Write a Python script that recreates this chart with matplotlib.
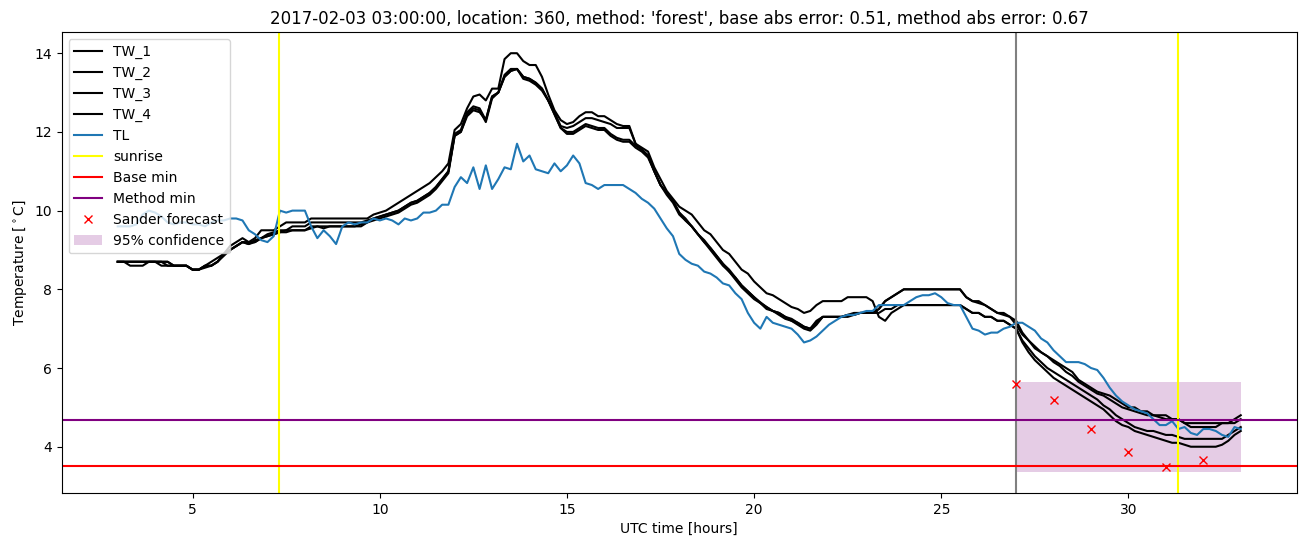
import numpy as np
import matplotlib
matplotlib.use("Agg")
import matplotlib.pyplot as plt

# time axis: 10-minute samples from 03:00 to 33:00 UTC
hours = 3 + np.arange(181) / 6.0

tw_1 = [
    8.7, 8.7, 8.7, 8.7, 8.7, 8.7,
    8.7, 8.7, 8.6, 8.6, 8.6, 8.6,
    8.5, 8.5, 8.6, 8.7, 8.8, 8.9,
    9.1, 9.2, 9.3, 9.2, 9.3, 9.5,
    9.5, 9.5, 9.6, 9.7, 9.7, 9.7,
    9.7, 9.8, 9.8, 9.8, 9.8, 9.8,
    9.8, 9.8, 9.8, 9.8, 9.8, 9.9,
    9.95, 10.0, 10.1, 10.2, 10.3, 10.4,
    10.5, 10.6, 10.7, 10.85, 11.0, 11.2,
    12.05, 12.2, 12.6, 12.9, 12.95, 12.8,
    13.1, 13.1, 13.85, 14.0, 14.0, 13.8,
    13.7, 13.7, 13.4, 12.95, 12.55, 12.3,
    12.2, 12.25, 12.4, 12.5, 12.5, 12.4,
    12.4, 12.3, 12.2, 12.15, 12.15, 11.7,
    11.6, 11.5, 11.1, 10.8, 10.5, 10.3,
    10.1, 10.0, 9.9, 9.7, 9.5, 9.4,
    9.2, 9.0, 8.9, 8.7, 8.5, 8.4,
    8.2, 8.05, 7.9, 7.85, 7.75, 7.65,
    7.55, 7.5, 7.4, 7.45, 7.6, 7.7,
    7.7, 7.7, 7.7, 7.8, 7.8, 7.8,
    7.8, 7.7, 7.3, 7.2, 7.4, 7.5,
    7.6, 7.6, 7.6, 7.6, 7.6, 7.6,
    7.6, 7.6, 7.6, 7.6, 7.5, 7.4,
    7.4, 7.3, 7.3, 7.2, 7.2, 7.1,
    7.0, 6.7, 6.5, 6.3, 6.15, 6.0,
    5.9, 5.8, 5.7, 5.6, 5.5, 5.4,
    5.3, 5.2, 5.05, 4.95, 4.8, 4.7,
    4.6, 4.5, 4.45, 4.4, 4.4, 4.35,
    4.3, 4.3, 4.25, 4.2, 4.2, 4.2,
    4.2, 4.2, 4.2, 4.2, 4.3, 4.4,
    4.5,
]

tw_2 = [
    8.7, 8.7, 8.6, 8.6, 8.6, 8.7,
    8.7, 8.7, 8.7, 8.6, 8.6, 8.6,
    8.5, 8.5, 8.6, 8.6, 8.7, 8.9,
    9.0, 9.1, 9.2, 9.15, 9.2, 9.3,
    9.4, 9.45, 9.5, 9.5, 9.6, 9.6,
    9.6, 9.7, 9.7, 9.7, 9.7, 9.7,
    9.7, 9.7, 9.7, 9.7, 9.75, 9.8,
    9.85, 9.9, 9.95, 10.0, 10.1, 10.2,
    10.25, 10.35, 10.45, 10.6, 10.8, 11.0,
    11.95, 12.05, 12.5, 12.65, 12.6, 12.3,
    12.9, 13.0, 13.45, 13.6, 13.6, 13.4,
    13.35, 13.25, 13.1, 12.8, 12.5, 12.15,
    12.1, 12.15, 12.25, 12.35, 12.35, 12.3,
    12.25, 12.2, 12.1, 12.1, 12.1, 11.7,
    11.55, 11.4, 11.0, 10.65, 10.45, 10.25,
    9.95, 9.8, 9.6, 9.4, 9.25, 9.05,
    8.85, 8.65, 8.5, 8.3, 8.1, 7.95,
    7.8, 7.67, 7.55, 7.45, 7.4, 7.3,
    7.25, 7.15, 7.05, 7.0, 7.2, 7.3,
    7.3, 7.3, 7.3, 7.35, 7.35, 7.4,
    7.4, 7.4, 7.5, 7.7, 7.8, 7.9,
    8.0, 8.0, 8.0, 8.0, 8.0, 8.0,
    8.0, 8.0, 8.0, 8.0, 7.8, 7.7,
    7.7, 7.6, 7.5, 7.4, 7.4, 7.3,
    7.2, 6.9, 6.7, 6.55, 6.4, 6.3,
    6.2, 6.1, 6.0, 5.9, 5.7, 5.6,
    5.5, 5.4, 5.35, 5.3, 5.2, 5.1,
    5.0, 5.0, 4.9, 4.9, 4.8, 4.8,
    4.8, 4.7, 4.7, 4.6, 4.6, 4.6,
    4.6, 4.6, 4.6, 4.6, 4.6, 4.7,
    4.8,
]

tw_3 = [
    8.7, 8.7, 8.7, 8.7, 8.7, 8.7,
    8.7, 8.7, 8.7, 8.6, 8.6, 8.6,
    8.5, 8.5, 8.6, 8.6, 8.7, 8.9,
    9.0, 9.1, 9.2, 9.2, 9.2, 9.3,
    9.35, 9.4, 9.45, 9.45, 9.5, 9.5,
    9.5, 9.55, 9.6, 9.6, 9.6, 9.6,
    9.6, 9.6, 9.6, 9.6, 9.7, 9.8,
    9.85, 9.9, 9.95, 10.0, 10.1, 10.2,
    10.25, 10.35, 10.45, 10.6, 10.8, 11.0,
    11.9, 12.0, 12.45, 12.6, 12.55, 12.25,
    12.85, 13.0, 13.4, 13.55, 13.6, 13.4,
    13.35, 13.25, 13.1, 12.8, 12.45, 12.1,
    12.0, 12.0, 12.1, 12.2, 12.15, 12.1,
    12.1, 11.95, 11.85, 11.8, 11.8, 11.65,
    11.55, 11.4, 11.0, 10.65, 10.45, 10.25,
    9.95, 9.75, 9.6, 9.4, 9.2, 9.05,
    8.85, 8.65, 8.45, 8.3, 8.1, 7.95,
    7.8, 7.65, 7.55, 7.45, 7.4, 7.3,
    7.2, 7.15, 7.05, 7.0, 7.15, 7.3,
    7.3, 7.3, 7.3, 7.35, 7.4, 7.4,
    7.4, 7.4, 7.5, 7.7, 7.8, 7.9,
    8.0, 8.0, 8.0, 8.0, 8.0, 8.0,
    8.0, 8.0, 8.0, 8.0, 7.8, 7.7,
    7.65, 7.6, 7.5, 7.4, 7.35, 7.3,
    7.1, 6.85, 6.7, 6.5, 6.4, 6.3,
    6.15, 6.05, 5.9, 5.8, 5.65, 5.55,
    5.45, 5.35, 5.3, 5.2, 5.1, 5.0,
    4.95, 4.9, 4.85, 4.8, 4.8, 4.75,
    4.7, 4.7, 4.7, 4.6, 4.5, 4.5,
    4.5, 4.5, 4.5, 4.6, 4.6, 4.6,
    4.7,
]

tw_4 = [
    8.7, 8.7, 8.7, 8.7, 8.7, 8.7,
    8.7, 8.6, 8.6, 8.6, 8.6, 8.6,
    8.5, 8.5, 8.55, 8.6, 8.7, 8.85,
    9.0, 9.1, 9.2, 9.15, 9.25, 9.3,
    9.35, 9.4, 9.45, 9.5, 9.5, 9.5,
    9.5, 9.6, 9.6, 9.55, 9.6, 9.6,
    9.6, 9.6, 9.6, 9.65, 9.7, 9.75,
    9.8, 9.85, 9.9, 9.95, 10.05, 10.15,
    10.2, 10.3, 10.4, 10.55, 10.75, 10.95,
    11.9, 12.0, 12.4, 12.55, 12.5, 12.3,
    12.9, 13.0, 13.4, 13.55, 13.6, 13.35,
    13.3, 13.2, 13.05, 12.8, 12.45, 12.1,
    11.95, 11.95, 12.05, 12.15, 12.1, 12.05,
    12.05, 11.9, 11.8, 11.75, 11.75, 11.6,
    11.5, 11.35, 11.0, 10.65, 10.4, 10.2,
    9.9, 9.75, 9.6, 9.4, 9.2, 9.0,
    8.8, 8.6, 8.45, 8.25, 8.05, 7.9,
    7.75, 7.65, 7.5, 7.45, 7.35, 7.25,
    7.2, 7.1, 7.0, 6.95, 7.1, 7.3,
    7.3, 7.3, 7.3, 7.3, 7.35, 7.4,
    7.4, 7.4, 7.4, 7.5, 7.5, 7.6,
    7.6, 7.6, 7.6, 7.6, 7.6, 7.6,
    7.6, 7.6, 7.6, 7.6, 7.5, 7.4,
    7.4, 7.3, 7.3, 7.2, 7.2, 7.1,
    7.0, 6.65, 6.4, 6.2, 6.05, 5.9,
    5.75, 5.65, 5.55, 5.45, 5.35, 5.25,
    5.15, 5.05, 4.95, 4.8, 4.65, 4.55,
    4.5, 4.4, 4.35, 4.3, 4.25, 4.2,
    4.15, 4.1, 4.1, 4.05, 4.0, 4.0,
    4.0, 4.0, 4.0, 4.05, 4.15, 4.3,
    4.4,
]

tl = [
    9.6, 9.6, 9.6, 9.65, 9.9, 10.0,
    9.95, 9.85, 9.7, 9.65, 9.7, 9.7,
    9.65, 9.65, 9.6, 9.7, 9.75, 9.75,
    9.8, 9.8, 9.75, 9.5, 9.4, 9.25,
    9.2, 9.35, 10.0, 9.95, 10.0, 10.0,
    10.0, 9.6, 9.3, 9.5, 9.35, 9.15,
    9.6, 9.7, 9.65, 9.7, 9.7, 9.8,
    9.75, 9.8, 9.75, 9.65, 9.8, 9.75,
    9.8, 9.95, 9.95, 10.0, 10.15, 10.15,
    10.6, 10.85, 10.7, 11.1, 10.55, 11.15,
    10.55, 10.8, 11.1, 11.05, 11.7, 11.25,
    11.4, 11.05, 11.0, 10.95, 11.2, 11.0,
    11.15, 11.4, 11.2, 10.7, 10.65, 10.55,
    10.65, 10.65, 10.65, 10.65, 10.55, 10.45,
    10.3, 10.2, 10.05, 9.8, 9.55, 9.35,
    8.9, 8.75, 8.65, 8.6, 8.45, 8.4,
    8.3, 8.15, 8.1, 7.9, 7.75, 7.4,
    7.15, 7.0, 7.3, 7.15, 7.1, 7.05,
    7.0, 6.85, 6.65, 6.7, 6.8, 6.95,
    7.1, 7.2, 7.3, 7.35, 7.35, 7.4,
    7.45, 7.45, 7.6, 7.6, 7.6, 7.6,
    7.6, 7.7, 7.8, 7.85, 7.85, 7.9,
    7.8, 7.65, 7.6, 7.6, 7.3, 7.0,
    6.95, 6.85, 6.9, 6.9, 7.0, 7.05,
    7.15, 7.15, 7.05, 6.95, 6.75, 6.65,
    6.45, 6.3, 6.15, 6.15, 6.15, 6.1,
    6.0, 5.95, 5.75, 5.5, 5.3, 5.15,
    5.05, 4.95, 4.9, 4.85, 4.7, 4.55,
    4.55, 4.65, 4.45, 4.5, 4.35, 4.3,
    4.45, 4.45, 4.4, 4.3, 4.25, 4.5,
    4.45,
]

sunrise_hours = [7.30, 31.33]
forecast_start = 27.0
base_min = 3.5
method_min = 4.69
forecast_hours = [27, 28, 29, 30, 31, 32]
forecast_values = [5.6, 5.2, 4.46, 3.87, 3.49, 3.67]
conf_hours = [27, 33]
conf_low = [3.36, 3.36]
conf_high = [5.65, 5.65]

title = ("2017-02-03 03:00:00, location: 360, method: 'forest', "
         "base abs error: 0.51, method abs error: 0.67")

fig, ax = plt.subplots(figsize=(13.1, 5.47), dpi=100)
fig.subplots_adjust(left=0.047, right=0.990, top=0.941, bottom=0.099)

for name, series in (("TW_1", tw_1), ("TW_2", tw_2), ("TW_3", tw_3), ("TW_4", tw_4)):
    ax.plot(hours, series, color="black", label=name)
ax.plot(hours, tl, color="C0", label="TL")
ax.axvline(forecast_start, color="gray")
ax.axvline(sunrise_hours[0], color="yellow", label="sunrise")
ax.axvline(sunrise_hours[1], color="yellow")
ax.axhline(base_min, color="red", label="Base min")
ax.axhline(method_min, color="purple", label="Method min")
ax.plot(forecast_hours, forecast_values, "rx", label="Sander forecast")
ax.fill_between(conf_hours, conf_low, conf_high, color="purple", alpha=0.2,
                linewidth=0, label="95% confidence")

ax.set_title(title)
ax.set_xlabel("UTC time [hours]")
ax.set_ylabel(r"Temperature [$^\circ$C]")
ax.legend(loc="upper left")

fig.savefig("out.png", dpi=100)
